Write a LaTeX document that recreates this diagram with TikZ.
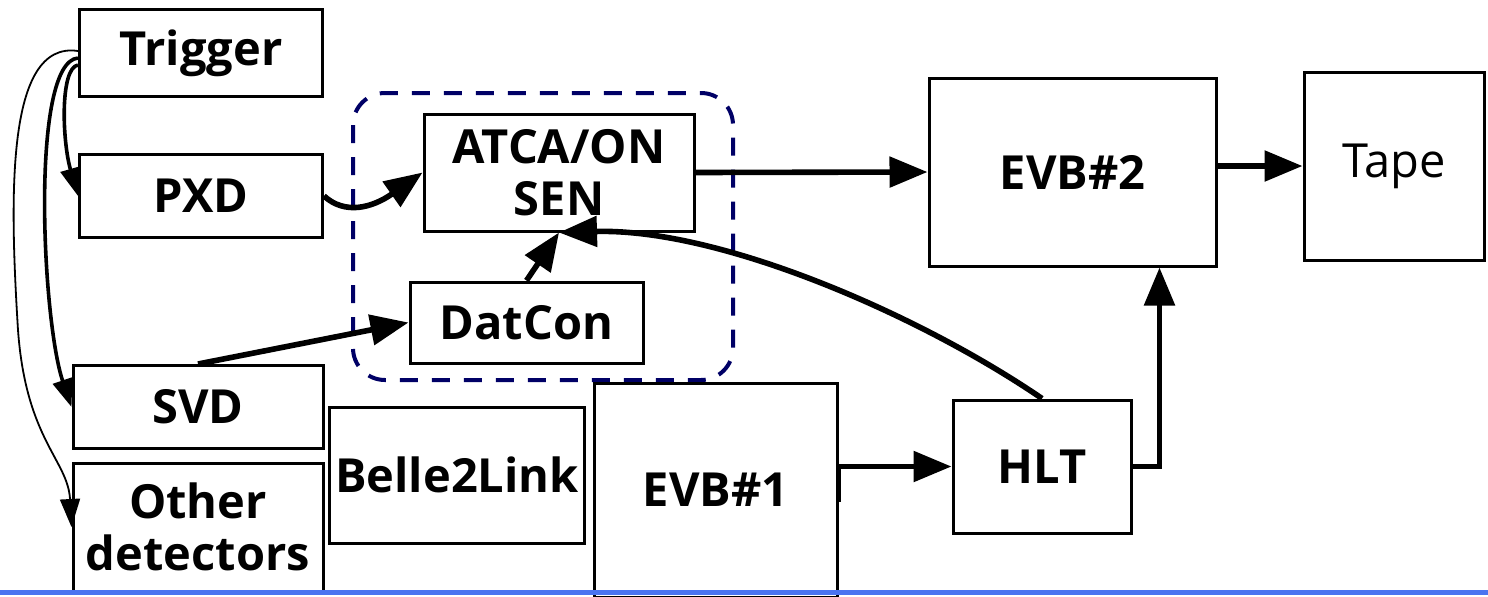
\documentclass[tikz,border=0pt]{standalone}
\usepackage{fontspec}
\setmainfont{Open Sans}
\usepackage{xcolor}
\definecolor{daqNavy}{HTML}{000066}
\definecolor{daqBlue}{HTML}{4A74F0}
\usetikzlibrary{arrows.meta,positioning,calc}
\tikzset{
    block/.style={
        draw=black,
        fill=white,
        rectangle,
        line width=1.5pt,
        align=center,
        inner sep=2pt,
        font=\bfseries\fontsize{23.5}{26}\selectfont
    },
    plainblock/.style={
        block,
        font=\fontsize{23.5}{26}\selectfont
    },
    arrow/.style={
        -{Triangle[length=19pt,width=15pt]},
        line width=2.8pt,
        color=black
    },
    trigarrow/.style={
        -{Triangle[length=14pt,width=10pt]},
        line width=1.8pt
    },
    hairarrow/.style={
        -{Triangle[length=14pt,width=10pt]},
        line width=0.9pt
    },
    group/.style={
        draw=daqNavy,
        line width=2pt,
        dash pattern=on 9pt off 7pt,
        rounded corners=16pt
    }
}

\begin{document}
\begin{tikzpicture}[x=0.5pt,y=-0.5pt]
    \useasboundingbox (0,0) rectangle (1488,596);
    \clip (0,0) rectangle (1488,596);

    % ONSEN group
    \draw[group] (353,93) rectangle (733,380);

    % Detectors
    \node[block, minimum width=121.5pt, minimum height=43.5pt] (trigger) at (201,53) {Trigger};
    \node[block, minimum width=121.5pt, minimum height=41.5pt] (pxd) at (201,196) {PXD};
    \node[block, minimum width=125pt, minimum height=41.5pt] (svd) at (198,407) {SVD};
    \node[block, minimum width=125pt, minimum height=64pt] (other) at (198,527) {Other\\detectors};

    % Readout
    \node[block, minimum width=127.5pt, minimum height=68pt] (b2link) at (457,475) {Belle2Link};
    \node[block, minimum width=135pt, minimum height=58.5pt] (onsen) at (559,172.5) {ATCA/ON\\SEN};
    \node[block, minimum width=116.5pt, minimum height=40.5pt] (datcon) at (526.5,322.5) {DatCon};
    \node[block, minimum width=121.5pt, minimum height=107pt] (evb1) at (715.5,490) {EVB\#1};
    \node[block, minimum width=89pt, minimum height=66.5pt] (hlt) at (1042,466.5) {HLT};
    \node[block, minimum width=143.5pt, minimum height=94pt] (evb2) at (1072.5,172) {EVB\#2};
    \node[plainblock, minimum width=90pt, minimum height=94pt] (tape) at (1394,166) {Tape};

    % Trigger fan-out
    \draw[trigarrow] ([yshift=-6pt]trigger.west) .. controls (60,68) and (62,140) .. (pxd.west);
    \draw[trigarrow] ([yshift=-2.5pt]trigger.west) .. controls (30,62) and (42,320) .. (svd.west);
    \draw[hairarrow] ([yshift=1pt]trigger.west) .. controls (5,40) and (10,200) .. (18,330)
        .. controls (26,440) and (68,460) .. (other.west);

    % Data flow
    \draw[arrow] (pxd.east) .. controls (345,215) and (372,208) .. (onsen.west);
    \draw[arrow] (svd.north) -- (datcon.west);
    \draw[arrow] (datcon.north) -- (onsen.south);
    \draw[arrow] (hlt.north) .. controls (920,315) and (720,228) .. (onsen.south);
    \draw[arrow] (onsen.east) -- (evb2.west);
    \draw[arrow] (evb2.east |- tape.west) -- (tape.west);
    \draw[arrow] ([yshift=-6pt]evb1.east) |- (hlt.west);
    \draw[arrow] (hlt.east) -| ([xshift=-29pt]evb2.south east);

    % Slide rule
    \draw[daqBlue, line width=2.5pt] (0,592.5) -- (1488,592.5);
\end{tikzpicture}
\end{document}
